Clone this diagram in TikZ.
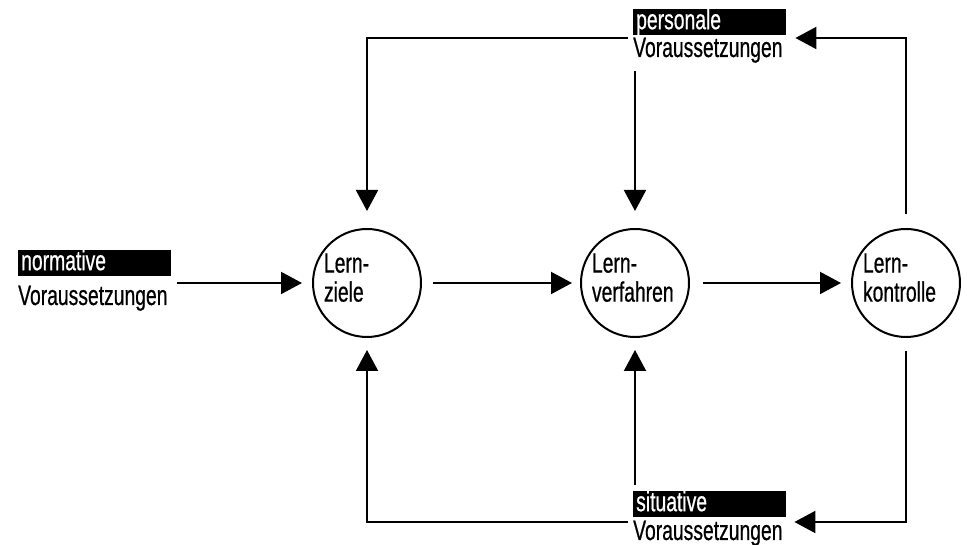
\documentclass[tikz,border=0pt]{standalone}
\usepackage{fontspec}
\setmainfont{Liberation Sans}[FakeStretch=0.69,FakeBold=0.6]
\usetikzlibrary{arrows.meta,calc}
\begin{document}
\begin{tikzpicture}[x=1pt,y=1pt,
  font=\fontsize{28}{29}\selectfont,
  stage/.style={circle,draw,line width=2pt,minimum size=108pt,inner sep=0pt,
    text width=86pt,align=left,text depth=40pt},
  tag/.style={fill=black,text=white,anchor=north west,text width=147pt,align=left,
    inner xsep=3pt,inner ysep=2pt,text height=18pt,text depth=4pt},
  vor/.style={anchor=base west,inner sep=0pt},
  conn/.style={line width=2pt},
  arr/.style={conn,-{Triangle[length=21pt,width=22pt]}}]
\useasboundingbox (0,0) rectangle (967,545);
\coordinate (toprow) at (0,507);
\coordinate (botrow) at (0,23);
% stages
\node[stage] (ziele) at (367,262) {Lern-\\ziele};
\node[stage] (verf) at (635,262) {Lern-\\verfahren};
\node[stage] (kontr) at (906,262) {Lern-\\kontrolle};
% labels
\node[tag] (pers) at (633,536) {personale};
\node[vor] (persv) at (633,488) {Voraussetzungen};
\node[tag] (norm) at (18,295) {normative};
\node[vor] (normv) at (18,240) {Voraussetzungen};
\node[tag] (sit) at (633,54) {situative};
\node[vor] (sitv) at (633,5) {Voraussetzungen};
% connectors
\draw[arr] ($(normv.east |- ziele.west)+(9,0)$) -- ([xshift=-10pt]ziele.west);
\draw[arr] ([xshift=11pt]ziele.east) -- ([xshift=-8pt]verf.west);
\draw[arr] ([xshift=13pt]verf.east) -- ([xshift=-10pt]kontr.west);
\draw[arr] ([yshift=14pt]kontr.north) |- ($(pers.east |- toprow)+(9,0)$);
\draw[arr] ($(pers.west |- toprow)+(-5,0)$) -| ([yshift=17pt]ziele.north);
\draw[arr] ($(persv.south -| verf.north)+(0,-8)$) -- ([yshift=17pt]verf.north);
\draw[arr] ([yshift=-13pt]kontr.south) |- ($(sit.east |- botrow)+(8,0)$);
\draw[arr] ($(sit.west |- botrow)+(-5,0)$) -| ([yshift=-12pt]ziele.south);
\draw[arr] ($(sit.north -| verf.south)+(0,6)$) -- ([yshift=-12pt]verf.south);
\end{tikzpicture}
\end{document}
